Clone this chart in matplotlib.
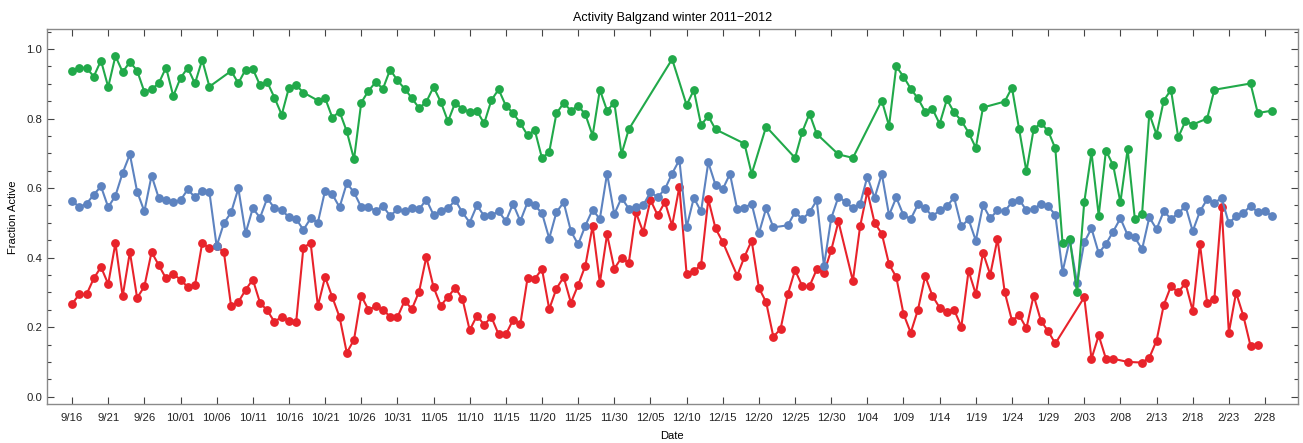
import numpy as np
import pandas as pd
import matplotlib
matplotlib.use("Agg")
import matplotlib.pyplot as plt
import matplotlib.dates as mdates
from matplotlib.ticker import FixedLocator, MultipleLocator, FuncFormatter

plt.rcParams["font.family"] = ["Liberation Sans", "DejaVu Sans"]

# one value per day from 2011-09-16, None = no observation that day
start = "2011-09-16"
n_days = 167

green = [0.937, 0.946, 0.946, 0.921, 0.967, 0.891, 0.980, 0.934, 0.963, 0.938,
         0.877, 0.884, 0.902, 0.947, 0.865, 0.917, 0.946, 0.901, 0.969, 0.892,
         None, None, 0.937, 0.902, 0.941, 0.943, 0.896, 0.905, 0.860, 0.811,
         0.889, 0.896, 0.875, None, 0.852, 0.859, 0.803, 0.820, 0.763, 0.683,
         0.846, 0.880, 0.905, 0.886, 0.941, 0.910, 0.886, 0.859, 0.830, 0.848,
         0.891, 0.848, 0.792, 0.846, 0.827, 0.820, 0.822, 0.786, 0.853, 0.884,
         0.837, 0.816, 0.787, 0.752, 0.767, 0.686, 0.704, 0.815, 0.845, 0.823,
         0.837, 0.812, 0.751, 0.883, 0.823, 0.846, 0.698, 0.769, None, None,
         None, None, None, 0.971, None, 0.839, 0.882, 0.782, 0.807, 0.769,
         None, None, None, 0.728, 0.641, None, 0.777, None, None, None,
         0.687, 0.762, 0.814, 0.756, None, None, 0.697, None, 0.687, None,
         None, None, 0.852, 0.779, 0.950, 0.921, 0.886, 0.858, 0.820, 0.828,
         0.785, 0.855, 0.818, 0.794, 0.760, 0.716, 0.832, None, None, 0.849,
         0.889, 0.769, 0.648, 0.769, 0.787, 0.765, 0.714, 0.441, 0.454, 0.300,
         0.559, 0.703, 0.521, 0.708, 0.666, 0.559, 0.712, 0.511, 0.526, 0.814,
         0.754, 0.852, 0.883, 0.746, 0.793, 0.783, None, 0.800, 0.883, None,
         None, None, None, 0.901, 0.816, None, 0.823]

blue = [0.564, 0.545, 0.555, 0.581, 0.605, 0.545, 0.578, 0.644, 0.697, 0.590,
        0.533, 0.636, 0.571, 0.565, 0.559, 0.565, 0.596, 0.574, 0.593, 0.588,
        0.433, 0.499, 0.530, 0.599, 0.470, 0.542, 0.515, 0.571, 0.542, 0.537,
        0.516, 0.511, 0.480, 0.513, 0.501, 0.593, 0.582, 0.545, 0.614, 0.588,
        0.545, 0.545, 0.535, 0.548, 0.520, 0.539, 0.533, 0.542, 0.539, 0.567,
        0.523, 0.534, 0.542, 0.565, 0.530, 0.501, 0.550, 0.520, 0.522, 0.533,
        0.505, 0.555, 0.505, 0.559, 0.550, 0.528, 0.455, 0.531, 0.559, 0.476,
        0.438, 0.492, 0.538, 0.511, 0.642, 0.525, 0.572, 0.541, 0.545, 0.551,
        0.588, 0.574, 0.597, 0.642, 0.681, 0.487, 0.572, 0.533, 0.674, 0.609,
        0.597, 0.641, 0.539, 0.544, 0.555, 0.470, 0.542, 0.487, None, 0.493,
        0.531, 0.511, 0.530, 0.565, 0.376, 0.513, 0.575, 0.560, 0.542, 0.554,
        0.633, 0.572, 0.641, 0.522, 0.573, 0.522, 0.511, 0.553, 0.542, 0.519,
        0.536, 0.548, 0.573, 0.490, 0.510, 0.449, 0.551, 0.513, 0.536, 0.533,
        0.560, 0.567, 0.536, 0.540, 0.554, 0.548, 0.523, 0.359, 0.452, 0.327,
        0.444, 0.484, 0.413, 0.439, 0.475, 0.513, 0.465, 0.458, 0.424, 0.516,
        0.482, 0.533, 0.512, 0.527, 0.549, 0.476, 0.533, 0.568, 0.558, 0.571,
        0.499, 0.519, 0.528, 0.549, 0.531, 0.534, 0.519]

red = [0.267, 0.294, 0.294, 0.340, 0.373, 0.324, 0.442, 0.289, 0.416, 0.284,
       0.317, 0.416, 0.378, 0.340, 0.352, 0.337, 0.315, 0.320, 0.442, 0.427,
       0.432, 0.416, 0.260, 0.272, 0.307, 0.337, 0.270, 0.248, 0.215, 0.230,
       0.218, 0.215, 0.429, 0.442, 0.261, 0.344, 0.286, 0.229, 0.126, 0.164,
       0.290, 0.250, 0.260, 0.250, 0.230, 0.228, 0.276, 0.252, 0.302, 0.402,
       0.315, 0.262, 0.287, 0.313, 0.281, 0.191, 0.233, 0.207, 0.229, 0.179,
       0.179, 0.221, 0.208, 0.341, 0.339, 0.367, 0.252, 0.311, 0.344, 0.270,
       0.321, 0.377, 0.491, 0.327, 0.467, 0.368, 0.400, 0.384, 0.530, 0.473,
       0.566, 0.522, 0.560, 0.492, 0.604, 0.353, 0.362, 0.378, 0.568, 0.484,
       0.445, None, 0.348, 0.402, 0.449, 0.313, 0.272, 0.172, 0.195, 0.295,
       0.364, 0.318, 0.318, 0.366, 0.357, 0.421, 0.504, None, 0.333, 0.490,
       0.591, 0.500, 0.469, 0.381, 0.344, 0.238, 0.184, 0.250, 0.347, 0.290,
       0.256, 0.244, 0.250, 0.201, 0.362, 0.295, 0.414, 0.351, 0.454, 0.301,
       0.219, 0.234, 0.197, 0.291, 0.219, 0.188, 0.153, None, None, None,
       0.286, 0.109, 0.176, 0.109, 0.109, None, 0.100, None, 0.098, 0.112,
       0.161, 0.264, 0.318, 0.300, 0.327, 0.247, 0.440, 0.270, 0.282, 0.546,
       0.184, 0.299, 0.233, 0.146, 0.150, None, None]

dates = pd.date_range(start, periods=n_days, freq="D")
series = [(red, "#e8232b"), (blue, "#5d83c0"), (green, "#21a94a")]

fig = plt.figure(figsize=(13.03, 4.43), dpi=100)
ax = fig.add_axes([0.0361, 0.0874, 0.9597, 0.8465])

for vals, col in series:
    s = pd.Series(vals, index=dates, dtype=float).dropna()
    ax.plot(s.index, s.values, color=col, lw=1.5, marker="o", ms=5.3,
            mec=col, mfc=col, zorder=3)

d0 = mdates.date2num(pd.Timestamp(start))
ax.set_xlim(d0 - 3.46, d0 + 169.5)
ax.set_ylim(-0.022, 1.057)

xticks = pd.date_range(start, "2012-02-28", freq="5D")
ax.xaxis.set_major_locator(FixedLocator(mdates.date2num(xticks)))
ax.xaxis.set_major_formatter(FuncFormatter(
    lambda v, p: "{}/{:02d}".format(mdates.num2date(v).month, mdates.num2date(v).day)))
ax.yaxis.set_major_locator(MultipleLocator(0.2))
ax.yaxis.set_minor_locator(MultipleLocator(0.05))
ax.yaxis.set_major_formatter(FuncFormatter(lambda v, p: f"{v:.1f}"))

frame = "#8a8a8a"
for sp in ax.spines.values():
    sp.set_color(frame)
    sp.set_linewidth(1.0)
ax.tick_params(axis="both", which="both", direction="in", color="#444444",
               labelsize=8.2, labelcolor="#222222", top=True, right=True)
ax.tick_params(axis="both", which="major", length=5, width=0.8)
ax.tick_params(axis="y", which="minor", length=3, width=0.8)
ax.tick_params(axis="x", pad=6)

ax.set_title("Activity Balgzand winter 2011\u22122012", fontsize=9, pad=6)
ax.set_xlabel("Date", fontsize=8, labelpad=6)
ax.set_ylabel("Fraction Active", fontsize=8, labelpad=6)

fig.savefig("out.png", dpi=100)
